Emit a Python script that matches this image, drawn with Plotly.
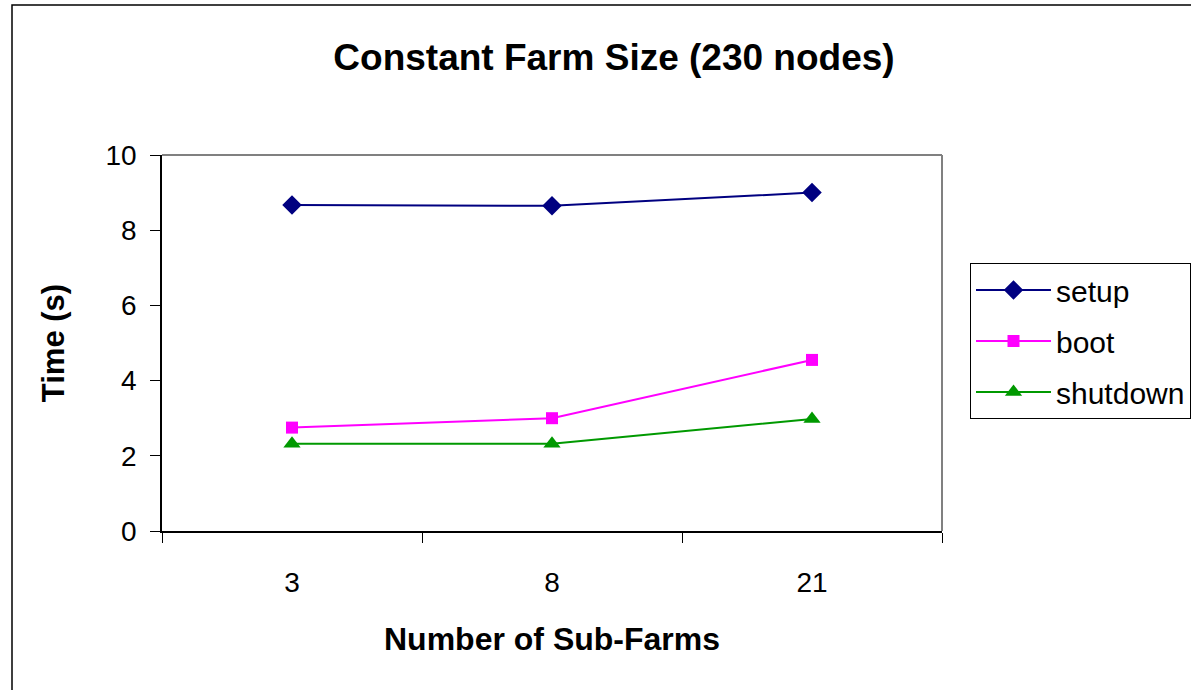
import plotly.graph_objects as go

categories = ["3", "8", "21"]
setup = [8.67, 8.65, 9.0]
boot = [2.75, 3.0, 4.55]
shutdown = [2.32, 2.32, 2.98]
y_ticks = [0, 2, 4, 6, 8, 10]

W, H = 1191, 690
L, R, T, B = 162, 942, 155, 531

fig = go.Figure()
fig.add_trace(go.Scatter(x=categories, y=setup, name="setup", mode="lines+markers",
                         legendgroup="a",
                         line=dict(color="#000080", width=2),
                         marker=dict(symbol="diamond", size=15, color="#000080")))
fig.add_trace(go.Scatter(x=categories, y=boot, name="boot", mode="lines+markers",
                         legendgroup="b",
                         line=dict(color="#FF00FF", width=2),
                         marker=dict(symbol="square", size=12, color="#FF00FF")))
fig.add_trace(go.Scatter(x=categories, y=shutdown, name="shutdown", mode="lines+markers",
                         legendgroup="c",
                         line=dict(color="#009900", width=2),
                         marker=dict(symbol="triangle-up", size=15, color="#009900")))

# outer chart border
fig.add_shape(type="rect", xref="paper", yref="paper",
              x0=(12 - L) / (R - L), x1=(1300 - L) / (R - L),
              y0=(B - 800) / (B - T), y1=(B - 5) / (B - T),
              line=dict(color="black", width=1.5), fillcolor="rgba(0,0,0,0)", layer="below")
# plot area border top/right gray
fig.add_shape(type="line", xref="paper", yref="paper", x0=0, x1=1, y0=1, y1=1,
              line=dict(color="#808080", width=2))
fig.add_shape(type="line", xref="paper", yref="paper", x0=1, x1=1, y0=0, y1=1,
              line=dict(color="#808080", width=2))

fig.update_layout(
    width=W, height=H,
    margin=dict(l=L, r=W - R, t=T, b=H - B, autoexpand=False),
    paper_bgcolor="white", plot_bgcolor="white",
    font=dict(family="Arial, Liberation Sans, sans-serif", color="black"),
    title=dict(text="<b>Constant Farm Size (230 nodes)</b>", x=614 / W, xanchor="center",
               y=1 - 57 / H, yanchor="middle", font=dict(size=37)),
    xaxis=dict(type="category", range=[-0.5, 2.5], tickson="boundaries", ticks="outside",
               ticklen=10, tickcolor="black", showline=True, linecolor="black", linewidth=1.5,
               showgrid=False, zeroline=False, tickfont=dict(size=28), ticklabelstandoff=26,
               title=dict(text="<b>Number of Sub-Farms</b>", font=dict(size=32), standoff=30)),
    yaxis=dict(range=[0, 10], tickvals=y_ticks, ticks="outside", ticklen=10, tickcolor="black",
               showline=True, linecolor="black", linewidth=1.5, showgrid=False, zeroline=False,
               tickfont=dict(size=28), ticklabelstandoff=8,
               title=dict(text="<b>Time (s)</b>", font=dict(size=31), standoff=32)),
    legend=dict(x=(970 - L) / (R - L), xanchor="left", y=(B - 263) / (B - T), yanchor="top",
                bordercolor="black", borderwidth=1, bgcolor="white", traceorder="grouped",
                font=dict(size=30), itemwidth=75, tracegroupgap=9),
    showlegend=True,
)

fig.write_html("out.html", post_script="document.body.style.margin='0';",
               config={"displayModeBar": False})
